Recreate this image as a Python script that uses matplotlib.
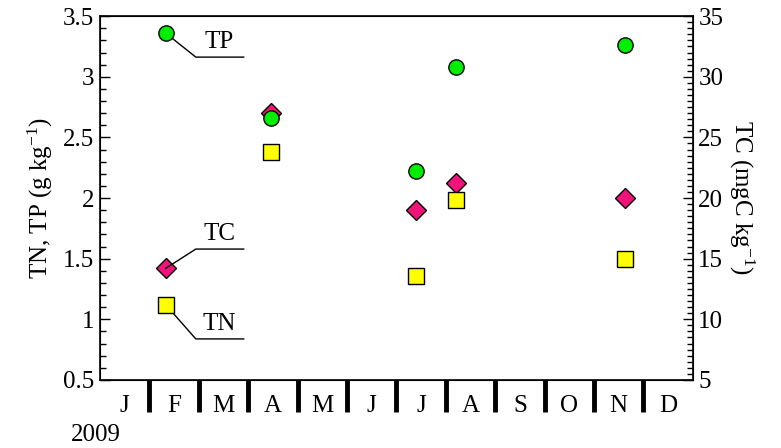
import numpy as np
import matplotlib.pyplot as plt
from matplotlib.ticker import MultipleLocator

plt.rcParams['font.family'] = ['Liberation Serif', 'DejaVu Serif']
plt.rcParams['mathtext.fontset'] = 'custom'
plt.rcParams['mathtext.rm'] = 'Liberation Serif'
plt.rcParams['mathtext.it'] = 'Liberation Serif:italic'

# sampling dates in months from 1 Jan 2009
days = np.array([1.33, 3.47, 6.40, 7.21, 10.63])
tp = np.array([3.36, 2.66, 2.22, 3.08, 3.26])
tn = np.array([1.12, 2.38, 1.36, 1.98, 1.50])
tc = np.array([14.2, 27.0, 19.0, 21.2, 20.0])
months = ['J', 'F', 'M', 'A', 'M', 'J', 'J', 'A', 'S', 'O', 'N', 'D']

fig = plt.figure(figsize=(7.81, 4.48), dpi=100)
ax = fig.add_axes([0.128, 0.152, 0.759, 0.812])
ax2 = ax.twinx()

ax2.plot(days, tc, 'D', ms=10.5, mfc='#f0147a', mec='black', mew=1.0, ls='none')
ax.plot(days, tp, 'o', ms=11, mfc='#00ee00', mec='black', mew=1.0, ls='none')
ax.plot(days, tn, 's', ms=11, mfc='#ffff00', mec='black', mew=1.0, ls='none')
ax.set_zorder(ax2.get_zorder() + 1)
ax.patch.set_visible(False)

ax.set_xlim(0, 12)
ax.set_ylim(0.5, 3.5)
ax2.set_ylim(5, 35)

ax.set_yticks(np.arange(0.5, 3.51, 0.5))
ax.set_yticklabels(['0.5', '1', '1.5', '2', '2.5', '3', '3.5'])
ax.yaxis.set_minor_locator(MultipleLocator(0.1))
ax2.yaxis.set_major_locator(MultipleLocator(5))
ax2.yaxis.set_minor_locator(MultipleLocator(0.5))

ax.tick_params(axis='y', which='major', direction='in', length=7, width=1, labelsize=18, pad=4)
ax.tick_params(axis='y', which='minor', direction='in', length=4, width=1)
ax2.tick_params(axis='y', which='major', direction='in', length=7, width=1, labelsize=18, pad=4)
ax2.tick_params(axis='y', which='minor', direction='in', length=4, width=1)

# month boundaries as thick ticks, month names centred between them
ax.set_xticks(np.arange(1, 12))
ax.set_xticklabels([])
ax.set_xticks(np.arange(0.5, 12), minor=True)
ax.set_xticklabels(months, minor=True)
ax.tick_params(axis='x', which='major', direction='out', length=23, width=3.5)
ax.tick_params(axis='x', which='minor', length=0, labelsize=18, pad=11)
ax2.tick_params(axis='x', which='both', length=0)

ax.set_ylabel('TN, TP (g kg$^{-1}$)', fontsize=18, labelpad=6)
ax2.set_ylabel('TC (mgC kg$^{-1}$)', fontsize=18, rotation=270, labelpad=24)
ax.annotate('2009', xy=(0, 0), xycoords='axes fraction', xytext=(-3, -40),
            textcoords='offset points', fontsize=18, ha='center', va='center')

# leader lines and labels
tc_left = 0.5 + (tc - 5) / 10.0
leaders = [('TP', tp[0], 3.162), ('TC', tc_left[0], 1.579), ('TN', tn[0], 0.838)]
for name, y0, ye in leaders:
    ax.plot([days[0], 1.94, 2.91], [y0, ye, ye], color='black', lw=1.0, zorder=1)
    ax.text(2.42, ye + 0.03, name, fontsize=18, ha='center', va='bottom')

for sp in ax.spines.values():
    sp.set_linewidth(1.2)

fig.savefig('out.png', dpi=100)
